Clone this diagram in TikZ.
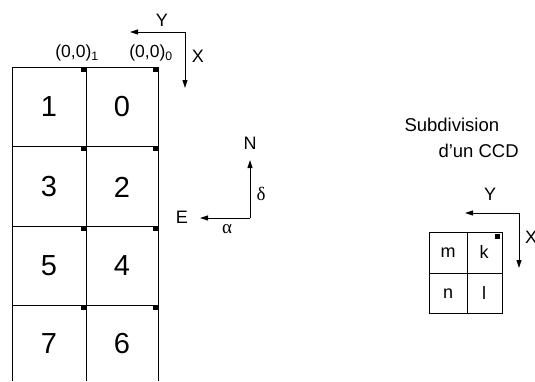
\documentclass[tikz,border=0pt]{standalone}
\usepackage{fontspec}
\setmainfont{Liberation Sans}
\newfontfamily\grkfont{Liberation Serif}
\usetikzlibrary{arrows.meta}
\tikzset{
  axis/.style={line width=1pt,-{Triangle[length=8pt,width=5pt]}},
  ccdnum/.style={font=\fontsize{29}{31}\selectfont},
  lbl/.style={font=\fontsize{18}{20}\selectfont,inner sep=0pt},
  grk/.style={font=\fontsize{19}{20}\grkfont,inner sep=0pt},
  corner/.style={fill=black}
}

\begin{document}
\begin{tikzpicture}[x=1pt,y=-1pt,line width=1pt]
  \useasboundingbox (0,0) rectangle (535,381);
  % mosaic of CCDs
  \foreach \y in {67,146,226,305} {
    \draw (12,\y) -- (158,\y);
    \fill[corner] (81,\y) rectangle ++(5,5);
    \fill[corner] (153,\y) rectangle ++(5,5);
  }
  \foreach \x in {12,86,158}
    \draw (\x,67) -- (\x,381);
  \foreach \r/\y in {0/107,1/187,2/266,3/344} {
    \pgfmathtruncatemacro{\nr}{2*\r}
    \pgfmathtruncatemacro{\nl}{2*\r+1}
    \node[ccdnum] (ccd\nr) at (122,\y) {\nr};
    \node[ccdnum] (ccd\nl) at (49,\y) {\nl};
  }
  \node[lbl,font=\fontsize{17.5}{19}\selectfont] (orig1) at (77,53) {(0,0)\textsubscript{1}};
  \node[lbl,font=\fontsize{17.5}{19}\selectfont] (orig0) at (151,53) {(0,0)\textsubscript{0}};
  % axes of the mosaic
  \coordinate (o1) at (185,32);
  \coordinate (y1) at (130,32);
  \coordinate (x1) at (185,88);
  \draw[axis] (o1) -- (y1);
  \draw[axis] (o1) -- (x1);
  \node[lbl] (ly1) at (162,20) {Y};
  \node[lbl] (lx1) at (198,56) {X};
  % sky orientation
  \coordinate (o2) at (250,218);
  \coordinate (n2) at (250,160);
  \coordinate (e2) at (200,218);
  \draw[axis] (o2) -- (n2);
  \draw[axis] (o2) -- (e2);
  \node[lbl] (north) at (250,143) {N};
  \node[lbl] (east) at (182,217) {E};
  \node[grk] (delta) at (261,194) {δ};
  \node[grk] (alpha) at (227,229) {α};
  % subdivision of one CCD
  \node[lbl,font=\fontsize{18.5}{20}\selectfont,anchor=west] (sub) at (404,125) {Subdivision};
  \node[lbl,font=\fontsize{18.5}{20}\selectfont,anchor=west] (dun) at (438,151) {d'un CCD};
  \draw (429,232) rectangle (502,313);
  \draw (467,232) -- (467,313);
  \draw (429,273) -- (502,273);
  \fill[corner] (495,234) rectangle ++(5,5);
  \node[lbl] (qm) at (448,253) {m};
  \node[lbl] (qk) at (484,252) {k};
  \node[lbl] (qn) at (448,294) {n};
  \node[lbl] (ql) at (484,293) {l};
  \coordinate (o3) at (519,213);
  \coordinate (y3) at (465,213);
  \coordinate (x3) at (519,268);
  \draw[axis] (o3) -- (y3);
  \draw[axis] (o3) -- (x3);
  \node[lbl] (ly3) at (490,194) {Y};
  \node[lbl] (lx3) at (531,237) {X};
\end{tikzpicture}
\end{document}
